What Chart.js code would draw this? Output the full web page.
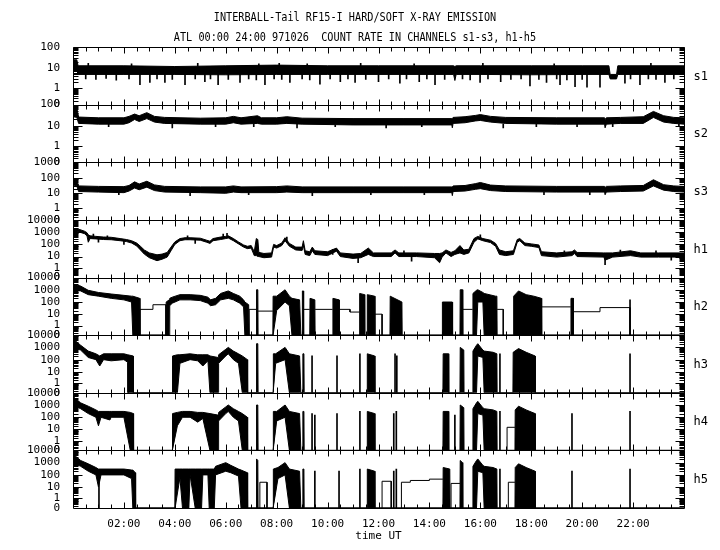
<!DOCTYPE html>
<html>
<head>
<meta charset="utf-8">
<script src="https://cdn.jsdelivr.net/npm/chart.js@4.4.0/dist/chart.umd.min.js"></script>
<style>
  body { margin: 0; background: #fff; }
  #wrap { position: relative; width: 720px; height: 550px; }
  .ttl { position: absolute; left: 0; width: 710px; text-align: center; white-space: pre;
         font: 12px "DejaVu Sans Mono", monospace; color: #000; transform: scaleX(0.85); }
</style>
</head>
<body>
<div id="wrap">
  <canvas id="c" width="720" height="550"></canvas>
  <div class="ttl" style="top:10px">INTERBALL-Tail RF15-I HARD/SOFT X-RAY EMISSION</div>
  <div class="ttl" style="top:30px">ATL 00:00 24:00 971026  COUNT RATE IN CHANNELS s1-s3, h1-h5</div>
</div>
<script>
// channels, top of each y axis, tick labels
const panelNames = ['s1', 's2', 's3', 'h1', 'h2', 'h3', 'h4', 'h5'];
const panelTop = [100, 100, 1000, 10000, 10000, 10000, 10000, 10000];
const sTicks = [0, 1, 10, 100];
const s3Ticks = [0, 1, 10, 100, 1000];
const hTicks = [0, 1, 10, 100, 1000, 10000];
const panelTicks = [sTicks, sTicks, s3Ticks, hTicks, hTicks, hTicks, hTicks, hTicks];

// count rate envelopes: [hour UT, low, high]
const s1Band = [[0, 8, 25], [0.15, 8, 25], [0.2, 5, 13], [2, 5, 13], [4, 5, 12], [6, 4.8, 13], [8, 5, 14],
  [10, 5, 13], [12, 5, 13], [14.95, 5, 13], [15.0, 2.5, 12], [15.05, 5, 13], [16, 5, 13], [18, 4.8, 13],
  [20, 5, 13], [21.05, 5, 13], [21.1, 3, 5], [21.35, 3, 5], [21.4, 5, 13], [24, 5, 13]];
// single excursions below / above the band: [hour UT, low, high]
const s1Dips = [[0.5, 3, 5], [0.9, 2.8, 5], [1.3, 3.2, 5], [1.7, 2.6, 5], [2.2, 3, 5], [2.63, 1.5, 5],
  [3.02, 2, 5], [3.3, 3, 5], [3.61, 2, 5], [3.9, 2.8, 5], [4.4, 1.5, 5], [4.8, 3, 5], [5.18, 2.2, 5],
  [5.4, 3, 5], [5.7, 1.5, 5], [6.1, 2.8, 5], [6.56, 2, 5], [6.9, 3, 5], [7.2, 2.7, 5], [7.54, 1.5, 5],
  [7.9, 3, 5], [8.2, 2.8, 5], [8.52, 2, 5], [9.0, 3, 5], [9.3, 2.7, 5], [9.7, 1.6, 5], [10.1, 3, 5],
  [10.5, 2.2, 5], [10.8, 3, 5], [11.08, 2, 5], [11.5, 2.8, 5], [12.0, 2.2, 5], [12.4, 3, 5],
  [12.84, 1.8, 5], [13.1, 3, 5], [13.6, 2.2, 5], [13.9, 3, 5], [14.22, 1.5, 5], [14.6, 2.8, 5],
  [15.3, 3, 5], [15.6, 2.7, 5], [15.99, 2, 5], [16.3, 3, 5], [16.8, 2.2, 5], [17.2, 2.8, 5],
  [17.6, 3, 5], [17.95, 1.3, 5], [18.3, 2.8, 5], [18.6, 2, 5], [19.0, 3, 5], [19.13, 1.5, 5],
  [19.4, 2.7, 5], [19.72, 1.2, 5], [20.0, 2.8, 5], [20.19, 1.1, 5], [20.7, 1.1, 5], [21.68, 1.8, 5],
  [21.9, 3, 5], [22.27, 1.5, 5], [22.6, 3, 5], [22.9, 2.8, 5], [23.25, 2, 5], [23.6, 3, 5],
  [0.6, 12, 17], [2.3, 12, 16], [4.9, 12, 17], [7.3, 12, 16], [8.1, 12, 17], [9.2, 12, 16],
  [11.3, 12, 17], [13.4, 12, 16], [16.1, 12, 17], [18.9, 12, 16], [22.7, 12, 17]];

const s2Band = [[0, 27, 80], [0.15, 25, 70], [0.22, 13, 26], [1.0, 12, 24], [2.0, 12, 24], [2.2, 14, 28],
  [2.42, 20, 36], [2.6, 16, 30], [2.9, 22, 42], [3.2, 15, 28], [3.6, 13, 25], [5.0, 12, 23], [6.0, 12, 24],
  [6.3, 14, 28], [6.6, 12, 24], [7.25, 13, 30], [7.4, 12, 24], [8.0, 12, 24], [8.4, 13, 27], [9.0, 12, 23],
  [11.0, 11, 22], [13.0, 11, 22], [14.88, 11, 22], [14.9, 8, 22], [14.93, 13, 25], [15.4, 14, 27],
  [15.8, 17, 31], [16.0, 18, 34], [16.4, 15, 28], [17.0, 13, 25], [19.0, 12, 24], [20.88, 12, 24],
  [20.9, 8, 20], [20.95, 12, 24], [21.5, 13, 25], [22.4, 13, 27], [22.8, 25, 48], [23.2, 15, 30],
  [23.6, 13, 25], [24, 12, 24]];
const s2Dips = [[1.4, 9, 12], [3.9, 8, 12], [5.6, 9, 12], [7.1, 9, 12], [8.8, 8, 12], [10.3, 9, 11],
  [12.3, 8, 11], [13.7, 9, 11], [16.9, 8, 12], [18.2, 9, 12], [19.8, 9, 12], [21.2, 9, 12], [23.8, 9, 12]];

const s3Band = [[0, 35, 80], [0.15, 30, 70], [0.22, 13, 30], [1.0, 12, 28], [2.0, 11, 27], [2.2, 14, 32],
  [2.42, 22, 55], [2.6, 17, 40], [2.9, 25, 60], [3.2, 15, 35], [3.6, 12, 28], [5.0, 11, 26], [6.0, 10, 26],
  [6.3, 12, 30], [6.6, 11, 26], [8.0, 11, 27], [8.4, 12, 30], [9.0, 11, 26], [11.0, 11, 26], [13.0, 11, 26],
  [14.88, 11, 26], [14.9, 7, 26], [14.93, 13, 30], [15.4, 14, 32], [15.8, 18, 42], [16.0, 20, 50],
  [16.4, 15, 34], [17.0, 13, 30], [19.0, 12, 28], [20.88, 12, 28], [20.9, 8, 24], [20.95, 12, 28],
  [21.5, 13, 30], [22.4, 14, 32], [22.8, 30, 75], [23.2, 16, 36], [23.6, 13, 30], [24, 12, 28]];
const s3Dips = [[1.8, 8, 11], [4.6, 7, 11], [6.9, 8, 11], [9.4, 7, 11], [11.7, 8, 11], [13.8, 8, 11],
  [18.5, 8, 12], [20.3, 8, 12]];

const h1Band = [[0, 900, 2000], [0.2, 1100, 1800], [0.45, 750, 1200], [0.55, 500, 900], [0.6, 150, 600],
  [0.67, 300, 500], [0.9, 280, 450], [1.2, 250, 400], [1.5, 240, 380], [1.85, 200, 300], [2.1, 170, 250],
  [2.3, 130, 200], [2.5, 75, 130], [2.65, 35, 70], [2.8, 16, 35], [3.0, 8, 20], [3.3, 4.5, 14], [3.5, 6, 16],
  [3.7, 9, 22], [3.85, 30, 60], [4.0, 100, 160], [4.2, 200, 300], [4.4, 240, 350], [4.6, 240, 350],
  [5.0, 220, 320], [5.25, 150, 220], [5.38, 120, 180], [5.5, 200, 300], [5.8, 250, 400], [6.0, 300, 450],
  [6.1, 330, 500], [6.3, 200, 300], [6.5, 110, 160], [6.7, 60, 90], [6.85, 45, 70], [7.0, 50, 80],
  [7.12, 12, 25], [7.2, 12, 300], [7.26, 10, 250], [7.3, 10, 22], [7.5, 8, 18], [7.8, 9, 20], [7.88, 60, 100],
  [8.0, 50, 80], [8.2, 80, 130], [8.33, 200, 350], [8.5, 70, 120], [8.75, 35, 60], [9.0, 32, 60],
  [9.05, 80, 200], [9.12, 15, 30], [9.3, 12, 25], [9.4, 30, 60], [9.5, 15, 30], [10.0, 12, 25],
  [10.35, 28, 50], [10.5, 10, 20], [11.0, 7, 16], [11.3, 8, 18], [11.6, 15, 50], [11.8, 10, 20],
  [12.5, 10, 20], [12.65, 20, 35], [12.8, 10, 20], [13.5, 10, 20], [14.2, 8, 18], [14.4, 3, 18],
  [14.5, 9, 20], [14.65, 20, 35], [14.85, 10, 22], [15.0, 15, 30], [15.2, 20, 80], [15.35, 15, 35],
  [15.55, 20, 40], [15.75, 150, 300], [15.9, 280, 450], [16.1, 200, 300], [16.4, 140, 220], [16.6, 70, 120],
  [16.75, 15, 35], [17.0, 12, 25], [17.3, 15, 30], [17.45, 150, 250], [17.55, 200, 300], [17.75, 80, 130],
  [18.0, 70, 110], [18.3, 55, 90], [18.4, 12, 25], [19.0, 9, 20], [19.6, 12, 25], [19.7, 18, 35],
  [19.8, 10, 22], [20.85, 9, 20], [20.9, 5, 20], [21.2, 9, 20], [21.9, 12, 30], [22.3, 9, 20],
  [23.0, 9, 20], [24.0, 9, 20]];
const h1Spikes = [[0.8, 300, 700], [1.0, 150, 300], [1.35, 250, 500], [2.0, 100, 200], [4.5, 250, 500],
  [4.8, 120, 250], [5.9, 300, 700], [6.05, 350, 800], [8.4, 150, 400], [10.2, 15, 40], [11.2, 3, 10],
  [13.0, 12, 30], [13.3, 4, 12], [16.0, 250, 600], [19.3, 12, 30], [20.9, 2, 8], [21.5, 12, 35],
  [22.9, 12, 30], [23.5, 5, 12]];

const h2Band = [[0, 1000, 3000], [0.3, 800, 2000], [0.6, 400, 900], [1.0, 300, 600], [1.5, 200, 450],
  [2.0, 150, 350], [2.3, 100, 300], [2.35, 0, 300], [2.62, 0, 200], [2.63, 0, 0], [3.65, 0, 0],
  [3.66, 0, 100], [3.78, 0, 150], [3.8, 50, 200], [3.9, 80, 250], [4.2, 150, 400], [4.6, 150, 400],
  [5.0, 130, 350], [5.3, 80, 250], [5.4, 50, 150], [5.6, 60, 200], [5.8, 150, 500], [6.1, 200, 800],
  [6.3, 150, 500], [6.55, 80, 300], [6.7, 40, 150], [6.75, 0, 100], [6.9, 0, 60], [6.92, 0, 0],
  [7.2, 0, 0], [7.21, 0, 1000], [7.26, 0, 1000], [7.27, 0, 0], [7.85, 0, 0], [7.86, 0, 300],
  [8.0, 20, 300], [8.33, 100, 1000], [8.5, 50, 300], [8.6, 0, 200], [8.9, 0, 150], [8.95, 0, 0],
  [9.0, 0, 0], [9.01, 0, 800], [9.05, 0, 800], [9.06, 0, 0], [9.3, 0, 0], [9.31, 0, 200], [9.5, 0, 150],
  [9.51, 0, 0], [10.2, 0, 0], [10.21, 0, 200], [10.45, 0, 150], [10.46, 0, 0], [11.25, 0, 0],
  [11.26, 0, 500], [11.45, 0, 400], [11.46, 0, 0], [11.55, 0, 0], [11.56, 0, 400], [11.85, 0, 300],
  [11.86, 0, 0], [12.45, 0, 0], [12.46, 0, 300], [12.92, 0, 100], [12.93, 0, 0], [14.5, 0, 0],
  [14.51, 0, 100], [14.9, 0, 100], [14.91, 0, 0], [15.2, 0, 0], [15.21, 0, 1000], [15.3, 0, 1000],
  [15.31, 0, 0], [15.7, 0, 0], [15.71, 0, 500], [15.85, 0, 900], [15.9, 100, 1000], [16.1, 100, 600],
  [16.15, 0, 500], [16.6, 0, 300], [16.65, 0, 300], [16.66, 0, 0], [17.3, 0, 0], [17.31, 0, 300],
  [17.5, 0, 800], [17.8, 0, 400], [18.1, 0, 300], [18.4, 0, 200], [18.41, 0, 0], [19.55, 0, 0],
  [19.56, 0, 200], [19.65, 0, 200], [19.66, 0, 0], [24, 0, 0]];
// thin interpolated stretches: [hour UT, count], null breaks the line
const h2Steps = [[2.63, 0], [2.63, 25], [3.14, 25], [3.14, 60], [3.65, 60], [3.65, 0], [3.65, null],
  [6.92, 0], [6.92, 25], [7.2, 25], [7.2, null], [7.27, 18], [7.85, 18], [7.85, null],
  [9.06, 25], [9.3, 25], [9.3, null], [9.51, 25], [10.2, 25], [10.2, null],
  [10.46, 25], [10.88, 25], [10.88, 15], [11.25, 15], [11.25, null],
  [11.86, 10], [12.14, 10], [12.14, 0], [12.14, null], [15.31, 25], [15.7, 25], [15.7, null],
  [16.66, 25], [16.9, 25], [16.9, 0], [16.9, null], [18.41, 40], [19.55, 40], [19.55, null],
  [19.66, 16], [20.7, 16], [20.7, 35], [21.88, 35], [21.88, 0]];
const h2Spikes = [[21.88, 0, 150]];

const h3Band = [[0, 1000, 5000], [0.3, 600, 1500], [0.6, 150, 500], [0.9, 100, 300], [1.05, 30, 200],
  [1.2, 100, 300], [1.5, 80, 300], [2.0, 100, 300], [2.15, 60, 250], [2.16, 0, 250], [2.36, 0, 200],
  [2.37, 0, 0], [3.9, 0, 0], [3.91, 0, 200], [4.1, 0, 250], [4.2, 50, 250], [4.6, 100, 300],
  [4.9, 80, 250], [5.1, 30, 250], [5.3, 80, 250], [5.38, 0, 200], [5.7, 0, 150], [5.72, 50, 250],
  [6.0, 200, 700], [6.1, 300, 1000], [6.3, 100, 500], [6.5, 50, 300], [6.65, 0, 200], [6.85, 0, 100],
  [6.86, 0, 0], [7.2, 0, 0], [7.21, 0, 2000], [7.26, 0, 2000], [7.27, 0, 0], [7.86, 0, 0], [7.87, 0, 300],
  [7.96, 50, 300], [8.33, 100, 1000], [8.5, 0, 300], [8.9, 0, 200], [8.95, 0, 0], [9.02, 0, 0],
  [9.03, 0, 300], [9.07, 0, 300], [9.08, 0, 0], [11.55, 0, 0], [11.56, 0, 300], [11.85, 0, 200],
  [11.86, 0, 0], [14.53, 0, 0], [14.54, 0, 300], [14.75, 0, 300], [14.76, 0, 0], [15.2, 0, 0],
  [15.21, 0, 1000], [15.35, 0, 600], [15.36, 0, 0], [15.7, 0, 0], [15.71, 0, 500], [15.85, 0, 1500],
  [15.9, 200, 2000], [16.1, 150, 600], [16.15, 0, 500], [16.5, 0, 400], [16.65, 0, 300], [16.66, 0, 0],
  [17.28, 0, 0], [17.29, 0, 400], [17.5, 0, 800], [17.8, 0, 400], [18.15, 0, 200], [18.16, 0, 0],
  [24, 0, 0]];
const h3Spikes = [[9.39, 0, 200], [10.37, 0, 200], [11.27, 0, 300], [12.65, 0, 300], [12.72, 0, 200],
  [16.77, 0, 300], [21.88, 0, 300]];

const h4Band = [[0, 1000, 5000], [0.3, 500, 1500], [0.6, 200, 800], [0.9, 100, 400], [1.0, 20, 300],
  [1.1, 100, 300], [1.45, 60, 300], [1.5, 100, 300], [2.0, 100, 300], [2.25, 0, 250], [2.37, 0, 200],
  [2.38, 0, 0], [3.9, 0, 0], [3.91, 0, 200], [4.1, 20, 250], [4.3, 100, 300], [4.6, 100, 300],
  [4.9, 40, 250], [5.1, 80, 250], [5.38, 0, 200], [5.7, 0, 150], [5.72, 50, 250], [6.0, 200, 700],
  [6.1, 300, 1000], [6.3, 100, 500], [6.5, 50, 300], [6.65, 0, 200], [6.85, 0, 100], [6.86, 0, 0],
  [7.2, 0, 0], [7.21, 0, 1000], [7.26, 0, 1000], [7.27, 0, 0], [7.86, 0, 0], [7.87, 0, 300],
  [8.0, 50, 300], [8.33, 100, 1000], [8.5, 0, 300], [8.9, 0, 200], [8.95, 0, 0], [9.02, 0, 0],
  [9.03, 0, 300], [9.07, 0, 300], [9.08, 0, 0], [11.55, 0, 0], [11.56, 0, 300], [11.85, 0, 200],
  [11.86, 0, 0], [14.53, 0, 0], [14.54, 0, 300], [14.75, 0, 300], [14.76, 0, 0], [15.2, 0, 0],
  [15.21, 0, 1000], [15.35, 0, 600], [15.36, 0, 0], [15.7, 0, 0], [15.71, 0, 500], [15.85, 0, 1500],
  [15.9, 200, 2000], [16.1, 150, 600], [16.15, 0, 500], [16.5, 0, 400], [16.65, 0, 300], [16.66, 0, 0],
  [17.36, 0, 0], [17.37, 0, 400], [17.5, 0, 800], [17.8, 0, 400], [18.15, 0, 200], [18.16, 0, 0],
  [24, 0, 0]];
const h4Steps = [[17.05, 0], [17.05, 15], [17.36, 15]];
const h4Spikes = [[9.39, 0, 200], [9.5, 0, 150], [10.37, 0, 200], [11.27, 0, 300], [12.6, 0, 200],
  [12.7, 0, 300], [15.0, 0, 150], [16.77, 0, 300], [19.6, 0, 200], [21.88, 0, 300]];

const h5Band = [[0, 1000, 5000], [0.3, 500, 1500], [0.6, 200, 800], [0.9, 100, 400], [1.0, 10, 300],
  [1.1, 100, 300], [2.0, 100, 300], [2.3, 50, 250], [2.35, 0, 250], [2.45, 0, 150], [2.46, 0, 0],
  [4.0, 0, 0], [4.01, 0, 300], [4.2, 60, 300], [4.3, 0, 300], [4.55, 0, 300], [4.6, 100, 300],
  [4.8, 0, 300], [5.05, 0, 300], [5.1, 100, 300], [5.3, 100, 300], [5.35, 0, 300], [5.55, 0, 300],
  [5.6, 100, 500], [6.0, 200, 1000], [6.2, 150, 600], [6.5, 80, 300], [6.6, 0, 250], [6.85, 0, 150],
  [6.86, 0, 0], [7.2, 0, 0], [7.21, 0, 2000], [7.26, 0, 1500], [7.27, 0, 0], [7.86, 0, 0], [7.87, 0, 300],
  [8.05, 50, 400], [8.33, 100, 1000], [8.5, 0, 300], [8.9, 0, 200], [8.95, 0, 0], [9.02, 0, 0],
  [9.03, 0, 300], [9.07, 0, 300], [9.08, 0, 0], [11.55, 0, 0], [11.56, 0, 300], [11.85, 0, 200],
  [11.86, 0, 0], [14.53, 0, 0], [14.54, 0, 400], [14.8, 0, 300], [14.81, 0, 0], [15.2, 0, 0],
  [15.21, 0, 1500], [15.3, 0, 1000], [15.31, 0, 0], [15.7, 0, 0], [15.71, 0, 500], [15.85, 0, 1500],
  [15.9, 200, 2000], [16.1, 150, 600], [16.15, 0, 500], [16.5, 0, 400], [16.65, 0, 300], [16.66, 0, 0],
  [17.36, 0, 0], [17.37, 0, 400], [17.5, 0, 800], [17.8, 0, 400], [18.15, 0, 200], [18.16, 0, 0],
  [24, 0, 0]];
const h5Steps = [[7.34, 0], [7.34, 25], [7.62, 25], [7.62, 0], [7.62, null],
  [12.14, 0], [12.14, 30], [12.5, 30], [12.5, 0], [12.5, null],
  [12.9, 0], [12.9, 25], [13.25, 25], [13.25, 35], [14.0, 35], [14.0, 45], [14.53, 45], [14.53, null],
  [14.85, 0], [14.85, 20], [15.2, 20], [15.2, null], [17.1, 0], [17.1, 25], [17.36, 25]];
const h5Spikes = [[1.02, 0, 100], [9.5, 0, 200], [10.45, 0, 200], [11.27, 0, 300], [12.6, 0, 200],
  [12.7, 0, 300], [16.77, 0, 300], [19.6, 0, 200], [21.88, 0, 300]];

const bands = [s1Band, s2Band, s3Band, h1Band, h2Band, h3Band, h4Band, h5Band];
const spikes = [s1Dips, s2Dips, s3Dips, h1Spikes, h2Spikes, h3Spikes, h4Spikes, h5Spikes];
const steps = [[], [], [], [], h2Steps, [], h4Steps, h5Steps];

// the plot's count axis: log with an offset so that 0 sits at the bottom
const f = c => Math.log10(c + 0.2);

Chart.defaults.font.family = "'DejaVu Sans Mono', monospace";
Chart.defaults.font.size = 11;
Chart.defaults.color = '#000';

const datasets = [];
panelNames.forEach((p, i) => {
  datasets.push({
    type: 'line', yAxisID: p, data: bands[i].map(r => ({x: r[0], y: f(r[1])})),
    borderColor: '#000', borderWidth: 1, pointRadius: 0, fill: false, tension: 0
  });
  datasets.push({
    type: 'line', yAxisID: p, data: bands[i].map(r => ({x: r[0], y: f(r[2])})),
    borderColor: '#000', borderWidth: 1, pointRadius: 0, fill: '-1', backgroundColor: '#000', tension: 0
  });
  if (spikes[i].length) {
    datasets.push({
      type: 'bar', yAxisID: p, data: spikes[i].map(r => ({x: r[0], y: [f(r[1]), f(r[2])]})),
      backgroundColor: '#000', barThickness: 1, grouped: false
    });
  }
  if (steps[i].length) {
    datasets.push({
      type: 'line', yAxisID: p,
      data: steps[i].map(r => ({x: r[0], y: r[1] === null ? null : f(r[1])})),
      borderColor: '#000', borderWidth: 1, pointRadius: 0, fill: false, tension: 0, spanGaps: false
    });
  }
});

const scales = {
  x: {
    type: 'linear', min: 0, max: 24, offset: false,
    grid: {display: false}, border: {display: false},
    ticks: {
      stepSize: 2, autoSkip: false, maxRotation: 0, padding: 2,
      callback: v => (v > 0 && v < 24) ? String(v).padStart(2, '0') + ':00' : ''
    },
    title: {display: true, text: 'time UT', padding: {top: 0, bottom: 7}},
    afterFit: s => { s.height = 42; }
  }
};
// stacked axes are laid out from the bottom up, so add them h5 first
panelNames.slice().reverse().forEach(p => {
  const i = panelNames.indexOf(p);
  scales[p] = {
    type: 'linear', position: 'left', stack: 'panels', stackWeight: 1,
    min: f(0), max: f(panelTop[i]),
    grid: {display: false}, border: {display: false},
    ticks: {autoSkip: false, padding: 5, callback: (v, k) => String(panelTicks[i][k])},
    afterBuildTicks: s => { s.ticks = panelTicks[i].map(v => ({value: f(v)})); },
    afterFit: s => { s.width = 73; }
  };
});

// panel frames, inward tick marks on all four sides, channel names
const frames = {
  id: 'frames',
  afterDraw(chart) {
    const ctx = chart.ctx, xs = chart.scales.x;
    const L = Math.round(chart.chartArea.left) + 0.5, R = Math.round(chart.chartArea.right) + 0.5;
    ctx.save();
    ctx.strokeStyle = '#000';
    ctx.fillStyle = '#000';
    ctx.lineWidth = 1;
    ctx.font = "12px 'DejaVu Sans Mono', monospace";
    ctx.textBaseline = 'middle';
    panelNames.forEach((p, i) => {
      const ys = chart.scales[p];
      const T = Math.round(ys.top) + 0.5, B = Math.round(ys.bottom) + 0.5;
      ctx.beginPath();
      ctx.rect(L, T, R - L, B - T);
      for (let d = -1; Math.pow(10, d) < panelTop[i] * 1.01; d++) {
        for (let m = 1; m <= 9; m++) {
          const val = m * Math.pow(10, d);
          if (val > panelTop[i] * 1.01) break;
          const y = Math.round(ys.getPixelForValue(f(val))) + 0.5;
          const len = (m === 1 && d >= 0) ? 9 : 5;
          ctx.moveTo(L, y); ctx.lineTo(L + len, y);
          ctx.moveTo(R, y); ctx.lineTo(R - len, y);
        }
      }
      for (let t = 0.5; t < 24; t += 0.5) {
        const x = Math.round(xs.getPixelForValue(t)) + 0.5;
        const len = (t % 2 === 0) ? 6 : 4;
        ctx.moveTo(x, T); ctx.lineTo(x, T + len);
        ctx.moveTo(x, B); ctx.lineTo(x, B - len);
      }
      ctx.stroke();
      ctx.fillText(p, R + 9, (T + B) / 2);
    });
    ctx.restore();
  }
};

new Chart(document.getElementById('c'), {
  type: 'line',
  data: {datasets},
  options: {
    responsive: false, animation: false, events: [],
    layout: {padding: {left: 0, right: 36, top: 47, bottom: 0}},
    plugins: {legend: {display: false}, tooltip: {enabled: false}},
    scales
  },
  plugins: [frames]
});
</script>
</body>
</html>
